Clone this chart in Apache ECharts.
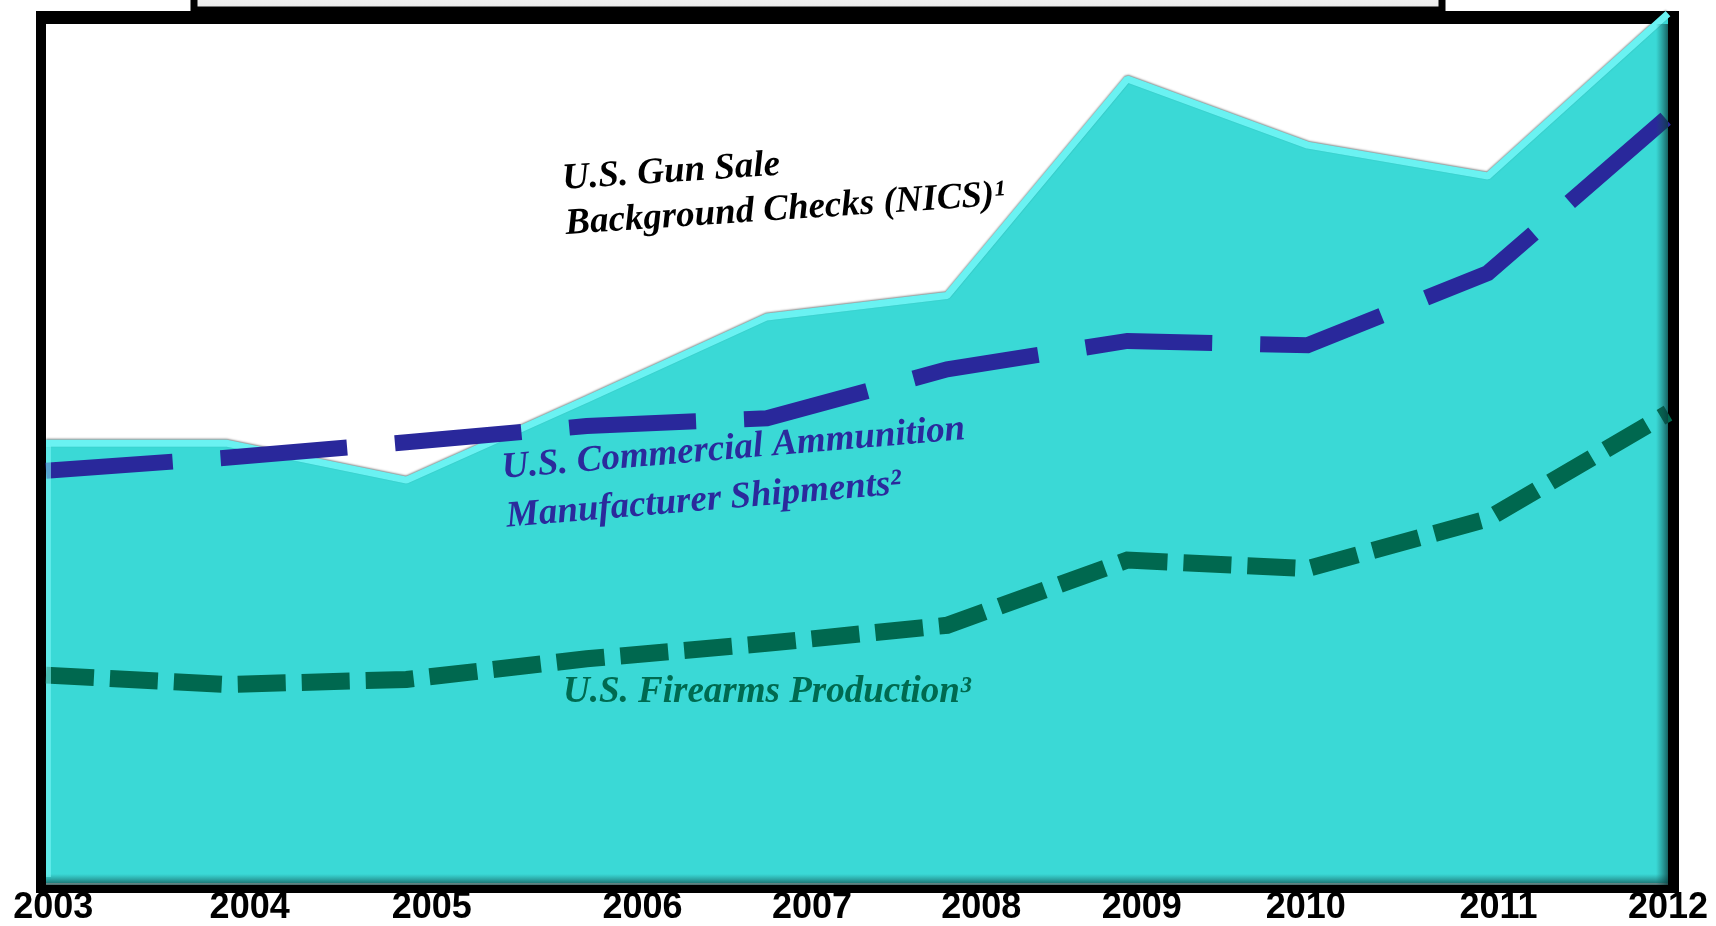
<!DOCTYPE html>
<html>
<head>
<meta charset="utf-8">
<script src="https://cdn.jsdelivr.net/npm/echarts@6/dist/echarts.min.js"></script>
<style>
html,body{margin:0;padding:0;background:#fff;}
#chart{width:1716px;height:926px;}
</style>
</head>
<body>
<div id="chart"></div>
<script>
// ---- data (index units) ----
const years = ['2003','2004','2005','2006','2007','2008','2009','2010','2011','2012'];
const nicsChecks = [51.2, 51.2, 46.9, 56.3, 65.9, 68.4, 93.6, 85.9, 82.3, 101.2];
const ammoShipments = [48.0, 49.5, 51.3, 53.2, 54.1, 59.8, 63.1, 62.6, 71.0, 89.2];
const firearmsProduction = [24.2, 23.1, 23.7, 26.1, 27.9, 30.0, 37.6, 36.6, 42.4, 54.7];
// where the year tick labels sit along the axis (category index units)
const yearLabelPos = [0.04, 1.13, 2.14, 3.31, 4.25, 5.19, 6.08, 6.99, 8.06, 9.0];

// ---- layout ----
const W = 1716, H = 926;
const G = {left: 46, right: 48, top: 24, bottom: 41};
const gx0 = G.left, gx1 = W - G.right, gy0 = G.top, gy1 = H - G.bottom;
const FR = {l: 10, r: 11, t: 13, b: 8};

const chart = echarts.init(document.getElementById('chart'), null, {renderer: 'canvas'});
const serif = '"Liberation Serif", "Times New Roman", serif';

function txt(x, y, rotDeg, text, color, lh) {
  return {
    type: 'text', x: x, y: y, rotation: rotDeg * Math.PI / 180, z: 100,
    style: {
      text: text, font: 'italic bold 37px ' + serif, fill: color,
      textAlign: 'left', align: 'left', textVerticalAlign: 'top', verticalAlign: 'top',
      lineHeight: lh
    }
  };
}

const option = {
  animation: false,
  backgroundColor: '#fff',
  grid: {left: G.left, right: G.right, top: G.top, bottom: G.bottom, containLabel: false},
  xAxis: [
    {type: 'category', data: years, boundaryGap: false, show: false},
    {
      type: 'value', min: 0, max: 9, position: 'bottom',
      axisLine: {show: false}, axisTick: {show: false}, splitLine: {show: false},
      axisLabel: {
        customValues: yearLabelPos,
        formatter: function (v) { return years[Math.round(v)]; },
        fontSize: 36, fontWeight: 'bold', fontFamily: '"Liberation Sans", Arial, sans-serif',
        color: '#000', margin: 7, showMinLabel: true, showMaxLabel: true, hideOverlap: false
      }
    }
  ],
  yAxis: {type: 'value', min: 0, max: 100, show: false},
  series: [
    {
      name: 'NICS', type: 'line', data: nicsChecks, symbol: 'none', clip: false, z: 2,
      lineStyle: {color: '#6af2f2', width: 7, shadowColor: 'rgba(0,0,0,0.45)', shadowBlur: 2, shadowOffsetY: -1},
      areaStyle: {color: '#3ad9d6', opacity: 1}
    },
    {
      name: 'Ammunition', type: 'line', data: ammoShipments, symbol: 'none', z: 3,
      lineStyle: {color: '#29289b', width: 16, type: [127, 48], cap: 'butt', join: 'miter'}
    },
    {
      name: 'Firearms', type: 'line', data: firearmsProduction, symbol: 'none', z: 3,
      lineStyle: {color: '#00684f', width: 17, type: [48, 16], cap: 'butt', join: 'miter'}
    }
  ],
  graphic: {
    elements: [
      // top cut-off title box
      {type: 'rect', z: 0, shape: {x: 194, y: -20, width: 1248, height: 30},
       style: {fill: new echarts.graphic.LinearGradient(0, 0, 0, 1, [{offset: 0, color: '#ffffff'}, {offset: 1, color: '#e6e6e6'}]),
               stroke: '#000', lineWidth: 7}},
      // frame (outside the plot area)
      {type: 'rect', z: 1, shape: {x: gx0 - FR.l, y: gy0 - FR.t, width: FR.l, height: gy1 - gy0 + FR.t + FR.b}, style: {fill: '#000'}},
      {type: 'rect', z: 1, shape: {x: gx1, y: gy0 - FR.t, width: FR.r, height: gy1 - gy0 + FR.t + FR.b}, style: {fill: '#000'}},
      {type: 'rect', z: 1, shape: {x: gx0 - FR.l, y: gy0 - FR.t, width: gx1 - gx0 + FR.l + FR.r, height: FR.t}, style: {fill: '#000'}},
      {type: 'rect', z: 1, shape: {x: gx0 - FR.l, y: gy1, width: gx1 - gx0 + FR.l + FR.r, height: FR.b}, style: {fill: '#000'}},
      // inner bevel shading
      {type: 'rect', z: 50, shape: {x: gx0, y: gy1 - 11, width: gx1 - gx0, height: 11},
       style: {fill: new echarts.graphic.LinearGradient(0, 0, 0, 1, [{offset: 0, color: 'rgba(20,90,90,0)'}, {offset: 1, color: 'rgba(10,60,60,0.75)'}])}},
      {type: 'rect', z: 50, shape: {x: gx1 - 12, y: gy0, width: 12, height: gy1 - gy0},
       style: {fill: new echarts.graphic.LinearGradient(0, 0, 1, 0, [{offset: 0, color: 'rgba(20,90,90,0)'}, {offset: 1, color: 'rgba(10,60,60,0.75)'}])}},
      {type: 'rect', z: 50, shape: {x: gx0, y: 446, width: 5, height: gy1 - 446 - 8},
       style: {fill: 'rgba(120,245,245,0.6)'}},
      // series captions
      txt(561, 157, 3.8, 'U.S. Gun Sale\nBackground Checks (NICS)\u00b9', '#000', 45),
      txt(500, 444, 4.8, 'U.S. Commercial Ammunition\nManufacturer Shipments\u00b2', '#2b2a9c', 49),
      txt(563, 670, 0, 'U.S. Firearms Production\u00b3', '#006a50', 45)
    ]
  }
};
chart.setOption(option);
</script>
</body>
</html>
